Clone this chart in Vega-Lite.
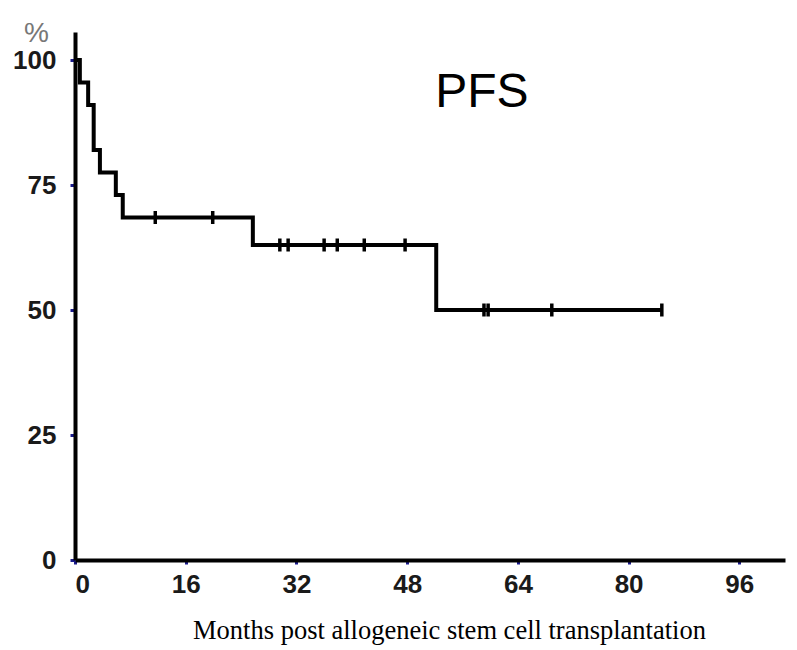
{
  "$schema": "https://vega.github.io/schema/vega-lite/v6.json",
  "autosize": "none",
  "width": 710,
  "height": 528,
  "padding": {"left": 75, "top": 32, "right": 12, "bottom": 90},
  "background": "white",
  "config": {"view": {"stroke": null}},
  "datasets": {
    "curve": [
      {"month": 0, "pfs": 100},
      {"month": 0.7, "pfs": 95.5},
      {"month": 1.9, "pfs": 91},
      {"month": 2.7, "pfs": 82},
      {"month": 3.6, "pfs": 77.5},
      {"month": 5.9, "pfs": 73},
      {"month": 6.9, "pfs": 68.5},
      {"month": 25.7, "pfs": 63},
      {"month": 52.2, "pfs": 50},
      {"month": 84.8, "pfs": 50}
    ],
    "censored": [
      {"month": 11.6, "pfs": 68.5},
      {"month": 19.9, "pfs": 68.5},
      {"month": 29.6, "pfs": 63},
      {"month": 30.8, "pfs": 63},
      {"month": 36.0, "pfs": 63},
      {"month": 37.9, "pfs": 63},
      {"month": 41.8, "pfs": 63},
      {"month": 47.7, "pfs": 63},
      {"month": 59.1, "pfs": 50},
      {"month": 59.7, "pfs": 50},
      {"month": 68.9, "pfs": 50},
      {"month": 84.8, "pfs": 50}
    ],
    "annotation": [
      {"label": "PFS"}
    ]
  },
  "layer": [
    {
      "data": {"name": "curve"},
      "mark": {"type": "line", "interpolate": "step-after", "color": "black", "strokeWidth": 4, "strokeJoin": "miter", "clip": false},
      "encoding": {
        "x": {
          "field": "month", "type": "quantitative",
          "scale": {"domain": [0, 102.6], "nice": false, "zero": true},
          "axis": {
            "values": [0, 16, 32, 48, 64, 80, 96],
            "grid": false,
            "domainColor": "black", "domainWidth": 4,
            "tickColor": "#1a1a8c", "tickSize": 4, "tickWidth": 3,
            "labelFont": "Liberation Sans", "labelFontWeight": "bold", "labelFontSize": 26,
            "labelColor": "#1a1a1a", "labelPadding": 7,
            "title": "Months post allogeneic stem cell transplantation",
            "titleFont": "Liberation Serif", "titleFontWeight": "normal", "titleFontSize": 26.5,
            "titleColor": "black", "titleX": 374, "titleY": 78, "titleBaseline": "alphabetic", "titleAlign": "center"
          }
        },
        "y": {
          "field": "pfs", "type": "quantitative",
          "scale": {"domain": [0, 105.6], "nice": false},
          "axis": {
            "values": [0, 25, 50, 75, 100],
            "grid": false,
            "domainColor": "black", "domainWidth": 4,
            "tickColor": "#1a1a8c", "tickSize": 5, "tickWidth": 3,
            "labelFont": "Liberation Sans", "labelFontWeight": "bold", "labelFontSize": 26,
            "labelColor": "#1a1a1a", "labelPadding": 14,
            "title": "%", "titleAngle": 0, "titleX": -39, "titleY": 9,
            "titleFont": "Liberation Sans", "titleFontWeight": "normal", "titleFontSize": 28,
            "titleColor": "#777777", "titleAlign": "center", "titleBaseline": "alphabetic"
          }
        }
      }
    },
    {
      "data": {"name": "censored"},
      "mark": {"type": "tick", "orient": "vertical", "size": 13, "thickness": 3.5, "color": "black", "opacity": 1},
      "encoding": {
        "x": {"field": "month", "type": "quantitative"},
        "y": {"field": "pfs", "type": "quantitative"}
      }
    },
    {
      "data": {"name": "annotation"},
      "mark": {"type": "text", "font": "Liberation Sans", "fontSize": 48, "color": "black", "align": "center", "baseline": "alphabetic"},
      "encoding": {
        "text": {"field": "label"},
        "x": {"datum": 58.8, "type": "quantitative"},
        "y": {"datum": 90.6, "type": "quantitative"}
      }
    }
  ]
}
